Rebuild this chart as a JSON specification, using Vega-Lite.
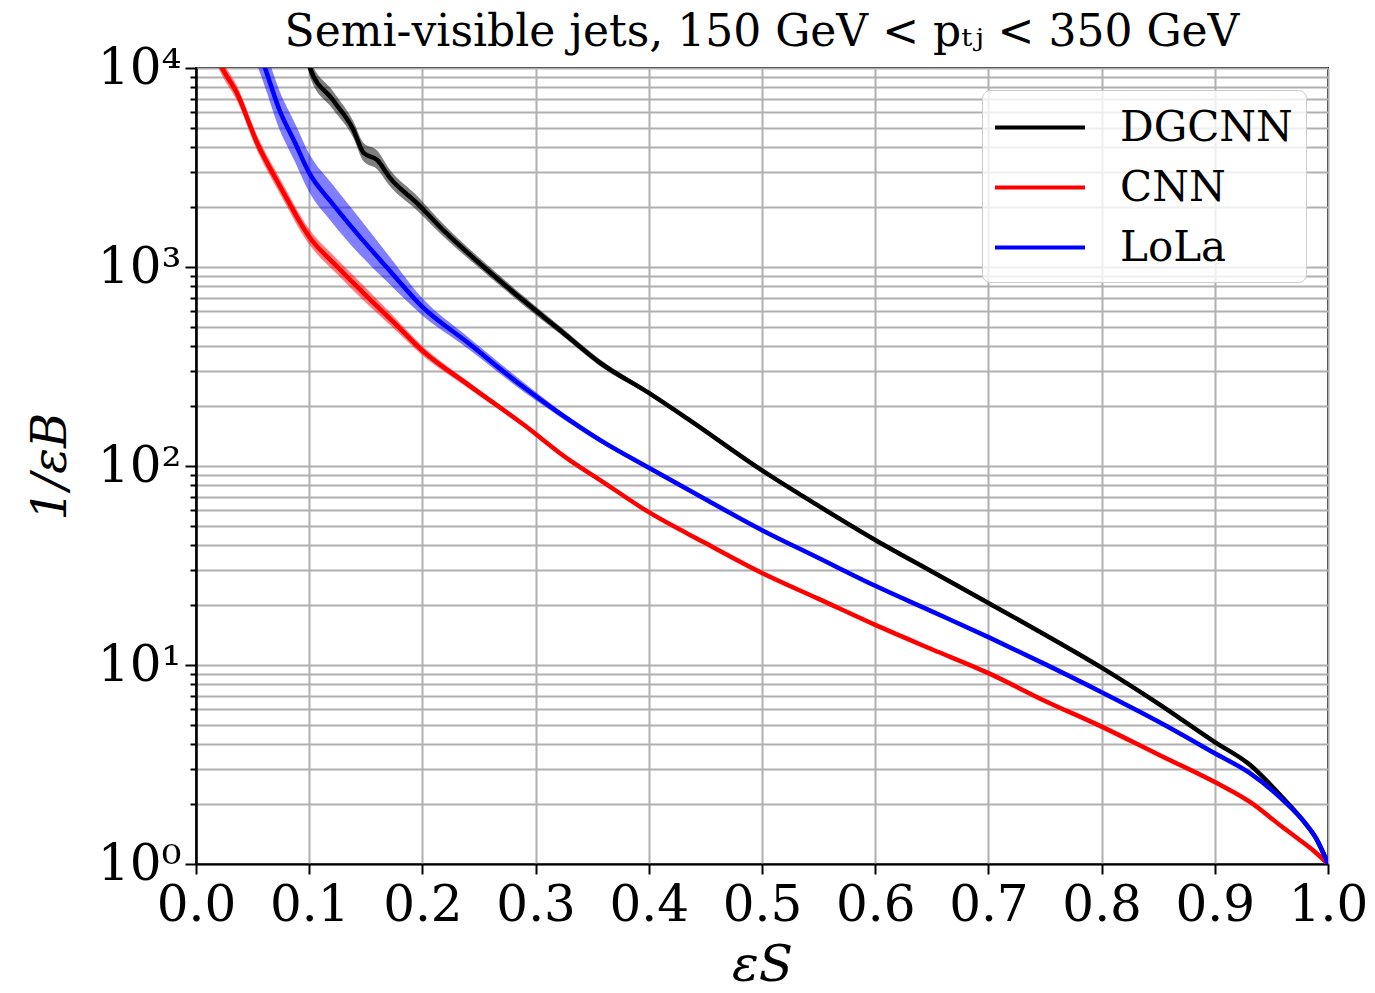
{
  "$schema": "https://vega.github.io/schema/vega-lite/v6.json",
  "width": 1132,
  "height": 796,
  "autosize": {"type": "none"},
  "padding": {"left": 196, "top": 68, "right": 47, "bottom": 129},
  "background": "white",
  "title": {
    "text": "Semi-visible jets, 150 GeV  < pₜⱼ < 350 GeV",
    "font": "DejaVu Serif",
    "fontSize": 44,
    "fontWeight": "normal",
    "color": "black",
    "anchor": "middle",
    "offset": -12
  },
  "config": {
    "view": {"stroke": "black", "strokeWidth": 2},
    "axis": {
      "labelFont": "DejaVu Serif",
      "titleFont": "DejaVu Serif",
      "labelColor": "black",
      "titleColor": "black",
      "domainColor": "black",
      "domainWidth": 2,
      "tickColor": "black",
      "tickWidth": 2,
      "gridColor": "#b0b0b0",
      "gridWidth": 2,
      "gridOpacity": 1,
      "titleFontWeight": "normal"
    }
  },
  "datasets": {
    "curves": [
      {"model": "DGCNN", "x": 0.098, "y": 12000},
      {"model": "DGCNN", "x": 0.1007, "y": 10000},
      {"model": "DGCNN", "x": 0.121, "y": 6900},
      {"model": "DGCNN", "x": 0.139, "y": 4900},
      {"model": "DGCNN", "x": 0.148, "y": 3750},
      {"model": "DGCNN", "x": 0.16, "y": 3450},
      {"model": "DGCNN", "x": 0.171, "y": 2820},
      {"model": "DGCNN", "x": 0.195, "y": 2100},
      {"model": "DGCNN", "x": 0.22, "y": 1500},
      {"model": "DGCNN", "x": 0.25, "y": 1050},
      {"model": "DGCNN", "x": 0.289, "y": 680},
      {"model": "DGCNN", "x": 0.32, "y": 490},
      {"model": "DGCNN", "x": 0.357, "y": 330},
      {"model": "DGCNN", "x": 0.4, "y": 233},
      {"model": "DGCNN", "x": 0.436, "y": 170},
      {"model": "DGCNN", "x": 0.5, "y": 95},
      {"model": "DGCNN", "x": 0.55, "y": 63},
      {"model": "DGCNN", "x": 0.6, "y": 42.5},
      {"model": "DGCNN", "x": 0.65, "y": 29.5},
      {"model": "DGCNN", "x": 0.7, "y": 20.5},
      {"model": "DGCNN", "x": 0.75, "y": 14.2},
      {"model": "DGCNN", "x": 0.8, "y": 9.7},
      {"model": "DGCNN", "x": 0.85, "y": 6.4},
      {"model": "DGCNN", "x": 0.9, "y": 4.1},
      {"model": "DGCNN", "x": 0.931, "y": 3.15},
      {"model": "DGCNN", "x": 0.96, "y": 2.15},
      {"model": "DGCNN", "x": 0.98, "y": 1.6},
      {"model": "DGCNN", "x": 0.99, "y": 1.33},
      {"model": "DGCNN", "x": 1.0, "y": 1.0},
      {"model": "CNN", "x": 0.02, "y": 10800},
      {"model": "CNN", "x": 0.023, "y": 10000},
      {"model": "CNN", "x": 0.036, "y": 7500},
      {"model": "CNN", "x": 0.054, "y": 4200},
      {"model": "CNN", "x": 0.075, "y": 2500},
      {"model": "CNN", "x": 0.1, "y": 1420},
      {"model": "CNN", "x": 0.125, "y": 1000},
      {"model": "CNN", "x": 0.148, "y": 740},
      {"model": "CNN", "x": 0.175, "y": 525},
      {"model": "CNN", "x": 0.2, "y": 380},
      {"model": "CNN", "x": 0.24, "y": 257},
      {"model": "CNN", "x": 0.289, "y": 162},
      {"model": "CNN", "x": 0.33, "y": 107},
      {"model": "CNN", "x": 0.357, "y": 85},
      {"model": "CNN", "x": 0.4, "y": 58.6},
      {"model": "CNN", "x": 0.45, "y": 41},
      {"model": "CNN", "x": 0.5, "y": 29},
      {"model": "CNN", "x": 0.55, "y": 21.5},
      {"model": "CNN", "x": 0.6, "y": 15.9},
      {"model": "CNN", "x": 0.65, "y": 12.0},
      {"model": "CNN", "x": 0.7, "y": 9.1},
      {"model": "CNN", "x": 0.75, "y": 6.6},
      {"model": "CNN", "x": 0.8, "y": 4.9},
      {"model": "CNN", "x": 0.85, "y": 3.55},
      {"model": "CNN", "x": 0.9, "y": 2.58},
      {"model": "CNN", "x": 0.931, "y": 2.05},
      {"model": "CNN", "x": 0.96, "y": 1.53},
      {"model": "CNN", "x": 0.975, "y": 1.32},
      {"model": "CNN", "x": 0.987, "y": 1.17},
      {"model": "CNN", "x": 1.0, "y": 1.0},
      {"model": "LoLa", "x": 0.055, "y": 12500},
      {"model": "LoLa", "x": 0.061, "y": 10000},
      {"model": "LoLa", "x": 0.074, "y": 6100},
      {"model": "LoLa", "x": 0.087, "y": 4270},
      {"model": "LoLa", "x": 0.1, "y": 2970},
      {"model": "LoLa", "x": 0.12, "y": 2100},
      {"model": "LoLa", "x": 0.142, "y": 1480},
      {"model": "LoLa", "x": 0.17, "y": 975},
      {"model": "LoLa", "x": 0.2, "y": 630},
      {"model": "LoLa", "x": 0.24, "y": 417},
      {"model": "LoLa", "x": 0.289, "y": 250},
      {"model": "LoLa", "x": 0.32, "y": 186},
      {"model": "LoLa", "x": 0.357, "y": 135},
      {"model": "LoLa", "x": 0.4, "y": 98},
      {"model": "LoLa", "x": 0.45, "y": 68},
      {"model": "LoLa", "x": 0.5, "y": 47.6},
      {"model": "LoLa", "x": 0.55, "y": 34.5},
      {"model": "LoLa", "x": 0.6, "y": 25},
      {"model": "LoLa", "x": 0.65, "y": 18.6},
      {"model": "LoLa", "x": 0.7, "y": 13.8},
      {"model": "LoLa", "x": 0.75, "y": 10.1},
      {"model": "LoLa", "x": 0.8, "y": 7.3},
      {"model": "LoLa", "x": 0.85, "y": 5.2},
      {"model": "LoLa", "x": 0.9, "y": 3.6},
      {"model": "LoLa", "x": 0.931, "y": 2.86},
      {"model": "LoLa", "x": 0.96, "y": 2.1},
      {"model": "LoLa", "x": 0.98, "y": 1.6},
      {"model": "LoLa", "x": 0.99, "y": 1.33},
      {"model": "LoLa", "x": 1.0, "y": 1.0}
    ],
    "bands": [
      {"band": "DGCNN", "x": 0.098, "lo": 10900, "hi": 13200},
      {"band": "DGCNN", "x": 0.1007, "lo": 9000, "hi": 11100},
      {"band": "DGCNN", "x": 0.121, "lo": 6200, "hi": 7650},
      {"band": "DGCNN", "x": 0.139, "lo": 4450, "hi": 5400},
      {"band": "DGCNN", "x": 0.148, "lo": 3400, "hi": 4200},
      {"band": "DGCNN", "x": 0.16, "lo": 3100, "hi": 3850},
      {"band": "DGCNN", "x": 0.171, "lo": 2560, "hi": 3100},
      {"band": "DGCNN", "x": 0.195, "lo": 1930, "hi": 2290},
      {"band": "DGCNN", "x": 0.22, "lo": 1400, "hi": 1610},
      {"band": "DGCNN", "x": 0.25, "lo": 990, "hi": 1115},
      {"band": "DGCNN", "x": 0.289, "lo": 645, "hi": 717},
      {"band": "DGCNN", "x": 0.32, "lo": 468, "hi": 512},
      {"band": "DGCNN", "x": 0.357, "lo": 317, "hi": 343},
      {"band": "DGCNN", "x": 0.4, "lo": 227, "hi": 239},
      {"band": "DGCNN", "x": 0.436, "lo": 167, "hi": 173},
      {"band": "CNN", "x": 0.02, "lo": 9900, "hi": 11800},
      {"band": "CNN", "x": 0.023, "lo": 9170, "hi": 10900},
      {"band": "CNN", "x": 0.036, "lo": 6880, "hi": 8180},
      {"band": "CNN", "x": 0.054, "lo": 3850, "hi": 4580},
      {"band": "CNN", "x": 0.075, "lo": 2290, "hi": 2730},
      {"band": "CNN", "x": 0.1, "lo": 1300, "hi": 1550},
      {"band": "CNN", "x": 0.125, "lo": 917, "hi": 1090},
      {"band": "CNN", "x": 0.148, "lo": 679, "hi": 807},
      {"band": "CNN", "x": 0.175, "lo": 490, "hi": 562},
      {"band": "CNN", "x": 0.2, "lo": 360, "hi": 401},
      {"band": "CNN", "x": 0.24, "lo": 247, "hi": 267},
      {"band": "CNN", "x": 0.289, "lo": 158, "hi": 166},
      {"band": "CNN", "x": 0.33, "lo": 105, "hi": 109},
      {"band": "LoLa", "x": 0.055, "lo": 10000, "hi": 15600},
      {"band": "LoLa", "x": 0.061, "lo": 8000, "hi": 12500},
      {"band": "LoLa", "x": 0.074, "lo": 4880, "hi": 7620},
      {"band": "LoLa", "x": 0.087, "lo": 3420, "hi": 5340},
      {"band": "LoLa", "x": 0.1, "lo": 2380, "hi": 3710},
      {"band": "LoLa", "x": 0.12, "lo": 1680, "hi": 2625},
      {"band": "LoLa", "x": 0.142, "lo": 1200, "hi": 1830},
      {"band": "LoLa", "x": 0.17, "lo": 830, "hi": 1145},
      {"band": "LoLa", "x": 0.2, "lo": 570, "hi": 696},
      {"band": "LoLa", "x": 0.24, "lo": 390, "hi": 446},
      {"band": "LoLa", "x": 0.289, "lo": 237, "hi": 264},
      {"band": "LoLa", "x": 0.32, "lo": 179, "hi": 193},
      {"band": "LoLa", "x": 0.357, "lo": 131, "hi": 139},
      {"band": "LoLa", "x": 0.4, "lo": 96, "hi": 100},
      {"band": "LoLa", "x": 0.45, "lo": 67.3, "hi": 68.7}
    ]
  },
  "layer": [
    {
      "data": {"name": "bands"},
      "transform": [{"filter": "datum.band == 'DGCNN'"}],
      "mark": {"type": "area", "color": "#000000", "opacity": 0.5, "clip": true, "interpolate": "monotone"},
      "encoding": {
        "x": {
          "field": "x", "type": "quantitative",
          "scale": {"domain": [0, 1], "nice": false, "zero": false},
          "axis": {
            "values": [0, 0.1, 0.2, 0.3, 0.4, 0.5, 0.6, 0.7, 0.8, 0.9, 1.0],
            "format": ".1f",
            "grid": true,
            "tickSize": 10,
            "labelFontSize": 50,
            "labelPadding": 6,
            "labelFlush": false,
            "labelOverlap": false,
            "title": "εS",
            "titleFontSize": 50,
            "titleFontStyle": "italic",
            "titlePadding": 10
          }
        },
        "y": {
          "field": "lo", "type": "quantitative",
          "scale": {"type": "log", "domain": [1, 10000], "nice": false},
          "axis": {
            "values": [2, 3, 4, 5, 6, 7, 8, 9, 20, 30, 40, 50, 60, 70, 80, 90, 200, 300, 400, 500, 600, 700, 800, 900, 2000, 3000, 4000, 5000, 6000, 7000, 8000, 9000],
            "grid": true,
            "labels": false,
            "tickSize": 6,
            "domain": true,
            "title": null,
            "orient": "left"
          }
        },
        "y2": {"field": "hi"}
      }
    },
    {
      "data": {"name": "bands"},
      "transform": [{"filter": "datum.band == 'CNN'"}],
      "mark": {"type": "area", "color": "#ff0000", "opacity": 0.5, "clip": true, "interpolate": "monotone"},
      "encoding": {
        "x": {"field": "x", "type": "quantitative"},
        "y": {"field": "lo", "type": "quantitative", "axis": null},
        "y2": {"field": "hi"}
      }
    },
    {
      "data": {"name": "bands"},
      "transform": [{"filter": "datum.band == 'LoLa'"}],
      "mark": {"type": "area", "color": "#0000ff", "opacity": 0.5, "clip": true, "interpolate": "monotone"},
      "encoding": {
        "x": {"field": "x", "type": "quantitative"},
        "y": {"field": "lo", "type": "quantitative", "axis": null},
        "y2": {"field": "hi"}
      }
    },
    {
      "data": {"name": "curves"},
      "mark": {"type": "line", "strokeWidth": 4.5, "clip": true, "interpolate": "monotone"},
      "encoding": {
        "x": {"field": "x", "type": "quantitative"},
        "y": {
          "field": "y", "type": "quantitative",
          "axis": {
            "values": [1, 10, 100, 1000, 10000],
            "grid": true,
            "tickSize": 11,
            "labelFontSize": 50,
            "labelPadding": 4,
            "labelFlush": false,
            "labelOverlap": false,
            "labelExpr": "datum.value == 1 ? '10⁰' : datum.value == 10 ? '10¹' : datum.value == 100 ? '10²' : datum.value == 1000 ? '10³' : '10⁴'",
            "title": "1/εB",
            "titleFontSize": 48,
            "titleFontStyle": "italic",
            "titlePadding": 22,
            "orient": "left"
          }
        },
        "color": {
          "field": "model", "type": "nominal",
          "scale": {"domain": ["DGCNN", "CNN", "LoLa"], "range": ["#000000", "#ff0000", "#0000ff"]},
          "legend": {
            "title": null,
            "orient": "top-right",
            "offset": 22,
            "symbolType": "M-2,0H2",
            "symbolSize": 2025,
            "symbolOffset": 20.5,
            "symbolStrokeWidth": 4,
            "symbolFillColor": "transparent",
            "labelFont": "DejaVu Serif",
            "labelFontSize": 42,
            "labelColor": "black",
            "labelLimit": 0,
            "labelOffset": 55.5,
            "rowPadding": 14,
            "padding": 13,
            "strokeColor": "#cccccc",
            "cornerRadius": 8,
            "fillColor": "rgba(255,255,255,0.8)"
          }
        }
      }
    }
  ],
  "resolve": {"axis": {"y": "independent"}}
}
